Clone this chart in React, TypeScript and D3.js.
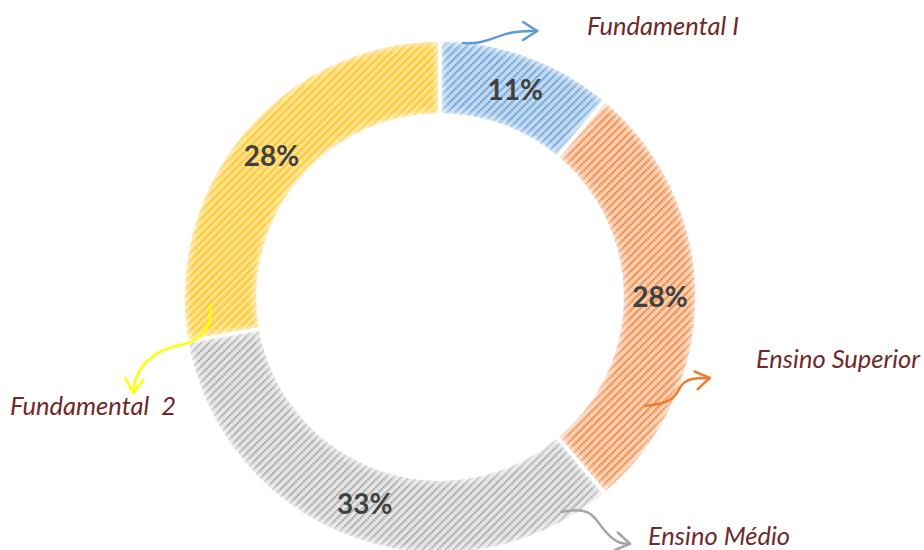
import React from "react";
import * as d3 from "d3";

const categories = ["Fundamental I", "Ensino Superior", "Ensino Médio", "Fundamental  2"];
const values = [4, 10, 12, 10];
const percentLabels = ["11%", "28%", "33%", "28%"];
const bgColors = ["#c4daf0", "#f9cfb2", "#e6e6e6", "#ffe291"];
const stripeColors = ["#5b9bd5", "#ed7d31", "#a0a0a0", "#ffc000"];
const arrowColors = ["#5b9bd5", "#ed7d31", "#a5a5a5", "#ffff00"];

const W = 924, H = 550;
const cx = 440, cy = 297;
const outerR = 257, innerR = 182;

function polar(angleDeg: number, r: number): [number, number] {
  const a = (angleDeg * Math.PI) / 180;
  return [cx + r * Math.sin(a), cy - r * Math.cos(a)];
}

export default function App() {
  const pie = d3.pie<number>().sort(null).value((d) => d)(values);
  const arc = d3.arc<d3.PieArcDatum<number>>().innerRadius(innerR).outerRadius(outerR);
  const labelArc = d3.arc<d3.PieArcDatum<number>>().innerRadius(220).outerRadius(220);

  const b0 = polar(5.2, 255);
  const o0 = polar(118, 232);
  const g0 = polar(150.4, 247);
  const y0 = polar(268, 230);
  const arrows = [
    { d: `M${b0[0]},${b0[1]} C${b0[0] + 30},${b0[1] + 2} ${b0[0] + 35},${b0[1] - 14} ${b0[0] + 74},${b0[1] - 12}`, end: [b0[0] + 74, b0[1] - 12], dir: 0 },
    { d: `M${o0[0]},${o0[1]} C${o0[0] + 25},${o0[1] - 2} ${o0[0] + 30},${o0[1] - 8} ${o0[0] + 35},${o0[1] - 18} S${o0[0] + 50},${o0[1] - 28} ${o0[0] + 65},${o0[1] - 28}`, end: [o0[0] + 65, o0[1] - 28], dir: -10 },
    { d: `M${g0[0]},${g0[1]} C${g0[0] + 30},${g0[1] - 6} ${g0[0] + 32},${g0[1] + 6} ${g0[0] + 42},${g0[1] + 18} S${g0[0] + 58},${g0[1] + 32} ${g0[0] + 68},${g0[1] + 32}`, end: [g0[0] + 68, g0[1] + 32], dir: 10 },
    { d: `M${y0[0]},${y0[1]} C${y0[0] + 2},${y0[1] + 20} ${y0[0] - 5},${y0[1] + 35} ${y0[0] - 30},${y0[1] + 40} S${y0[0] - 75},${y0[1] + 60} ${y0[0] - 77},${y0[1] + 88}`, end: [y0[0] - 77, y0[1] + 88], dir: 95 },
  ];

  const labelPos: [number, number][] = [
    [587, 35],
    [756, 368],
    [648, 545],
    [10, 415],
  ];

  return (
    <svg width={W} height={H} style={{ position: "absolute", left: 0, top: 0 }}>
      <defs>
        {bgColors.map((c, i) => (
          <pattern key={i} id={`hatch${i}`} width={5.5} height={5.5} patternUnits="userSpaceOnUse" patternTransform="rotate(45)">
            <rect width={5.5} height={5.5} fill={c} />
            <line x1={1.2} y1={0} x2={1.2} y2={5.5} stroke={stripeColors[i]} strokeWidth={2} strokeDasharray="2 0.75" />
          </pattern>
        ))}
        <filter id="soft" x="-20%" y="-20%" width="140%" height="140%">
          <feGaussianBlur stdDeviation={3} />
        </filter>
        {pie.map((p, i) => (
          <clipPath key={i} id={`clip${i}`}>
            <path d={arc(p) || ""} transform={`translate(${cx},${cy})`} />
          </clipPath>
        ))}
      </defs>
      <rect width={W} height={H} fill="#fff" />
      <g transform={`translate(${cx},${cy})`}>
        {pie.map((p, i) => (
          <path key={i} d={arc(p) || ""} fill={`url(#hatch${i})`} />
        ))}
      </g>
      {pie.map((p, i) => (
        <g key={i} clipPath={`url(#clip${i})`}>
          <path d={arc(p) || ""} transform={`translate(${cx},${cy})`} fill="none" stroke="#fff" strokeOpacity={0.7} strokeWidth={7} filter="url(#soft)" />
        </g>
      ))}
      <g transform={`translate(${cx},${cy})`}>
        {pie.map((p, i) => (
          <path key={i} d={arc(p) || ""} fill="none" stroke="#fff" strokeWidth={3.5} />
        ))}
        {pie.map((p, i) => {
          const [x, y] = labelArc.centroid(p);
          return (
            <text key={i} x={x} y={y} dy="0.36em" textAnchor="middle" fontFamily="Lato, sans-serif" fontWeight="bold" fontSize={28} fill="#404040">
              {percentLabels[i]}
            </text>
          );
        })}
      </g>
      {arrows.map((a, i) => (
        <g key={i}>
          <path d={a.d} fill="none" stroke={arrowColors[i]} strokeWidth={2.5} strokeLinecap="round" />
          <g transform={`translate(${a.end[0]},${a.end[1]}) rotate(${a.dir})`}>
            <path d="M-14,-9 L0,0 L-14,9" fill="none" stroke={arrowColors[i]} strokeWidth={2.5} strokeLinecap="round" strokeLinejoin="round" />
          </g>
        </g>
      ))}
      {categories.map((c, i) => (
        <text key={i} x={labelPos[i][0]} y={labelPos[i][1]} fontFamily="Lato, sans-serif" fontStyle="italic" fontSize={25.5} fill="#6e2a2a" style={{ whiteSpace: "pre" }}>
          {c}
        </text>
      ))}
    </svg>
  );
}
